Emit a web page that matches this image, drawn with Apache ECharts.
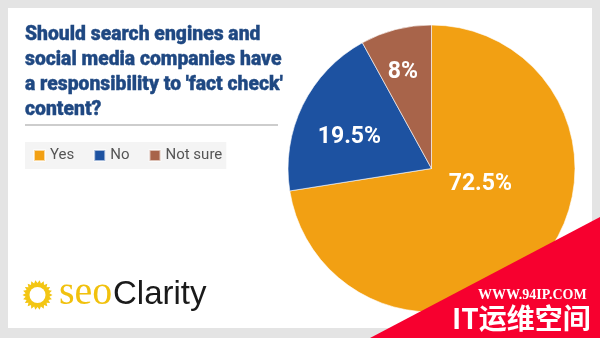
<!DOCTYPE html>
<html><head><meta charset="utf-8">
<script src="https://cdn.jsdelivr.net/npm/echarts@6/dist/echarts.min.js"></script>
<style>html,body{margin:0;padding:0;background:#e4e4e4;}#c{width:600px;height:338px;}</style>
</head><body><div id="c"></div>
<script>
const categories = ['Yes', 'No', 'Not sure'];
const values = [72.5, 19.5, 8];
const valueLabels = ['72.5%', '19.5%', '8%'];
const colors = ['#F2A013', '#1D52A1', '#A8644A'];
const titleLines = ["Should search engines and", "social media companies have", "a responsibility to 'fact check'", "content?"];
const labelOffsets = [[-8, -33], [-15, 2], [-10, -24]];

const chart = echarts.init(document.getElementById('c'), null, {renderer: 'canvas'});

// sun logo polygon (decoration only)
const sunPts = [];
const N = 44;
for (let i = 0; i < N; i++) {
  const a = i / N * Math.PI * 2;
  const r = (i % 2 === 0) ? 15 : 12;
  sunPts.push([37.5 + r * Math.cos(a), 295 + r * Math.sin(a)]);
}

const font = '"Roboto","Liberation Sans",sans-serif';

const option = {
  backgroundColor: '#e4e4e4',
  animation: false,
  color: colors,
  legend: {
    left: 25, top: 142,
    padding: [6, 4, 6, 8],
    backgroundColor: '#f4f4f4',
    itemWidth: 11, itemHeight: 11, itemGap: 19,
    icon: 'rect',
    data: categories,
    textStyle: {color: '#555', fontSize: 15, fontFamily: font}
  },
  graphic: [
    {type: 'rect', shape: {x: 8, y: 8, width: 584, height: 320}, style: {fill: '#ffffff'}, z: -10},
    {type: 'text', x: 25, y: 22, scaleX: 0.92, originX: 0, originY: 0, style: {
      text: titleLines.join('\n'), fill: '#1F4882', font: '900 21px ' + font, lineHeight: 25,
      stroke: '#1F4882', lineWidth: 0.4
    }},
    {type: 'line', shape: {x1: 25, y1: 125, x2: 278, y2: 125}, style: {stroke: '#bdbdbd', lineWidth: 1.5}},
    {type: 'polygon', shape: {points: sunPts}, style: {fill: '#F3C614'}},
    {type: 'circle', shape: {cx: 37.5, cy: 295, r: 8}, style: {fill: '#ffffff'}},
    {type: 'text', x: 59, y: 273, style: {text: 'seo', fill: '#F1C10D', font: '40px "Liberation Serif",serif', verticalAlign: 'top'}},
    {type: 'text', x: 113, y: 278, style: {text: 'Clarity', fill: '#1a1a1a', font: '33px "Liberation Sans",sans-serif', verticalAlign: 'top'}},
    {type: 'polygon', shape: {points: [[370, 338], [600, 217], [600, 338]]}, style: {fill: '#F7002F'}, z: 100},
    {type: 'text', x: 478, y: 288, z: 101, style: {text: 'WWW.94IP.COM', fill: '#ffffff', font: 'bold 14px "Liberation Serif",serif'}},
    {type: 'text', x: 452, y: 304, z: 101, style: {text: 'IT运维空间', fill: '#ffffff', font: 'bold 28px "Noto Sans CJK SC",sans-serif', letterSpacing: 1}}
  ],
  series: [{
    type: 'pie',
    center: [431.5, 168.5],
    radius: 143.5,
    startAngle: 90,
    clockwise: true,
    itemStyle: {borderColor: 'rgba(255,255,255,0.6)', borderWidth: 1},
    label: {show: true, position: 'inside', color: '#fff', fontSize: 23, fontWeight: 'bold', fontFamily: font},
    labelLine: {show: false},
    emphasis: {disabled: true},
    data: categories.map((c, i) => ({
      name: c, value: values[i],
      label: {formatter: valueLabels[i], offset: labelOffsets[i]}
    }))
  }]
};
chart.setOption(option);
</script></body></html>
